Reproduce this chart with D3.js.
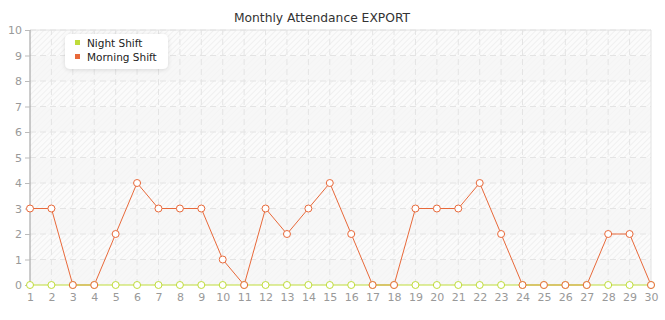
<!DOCTYPE html>
<html><head><meta charset="utf-8">
<script src="https://cdn.jsdelivr.net/npm/d3@7"></script>
<style>body{margin:0;background:#fff;}svg{display:block;font-family:"DejaVu Sans",Verdana,sans-serif;}</style>
</head><body><svg id="c" width="665" height="320"></svg>
<script>
const title = "Monthly Attendance EXPORT";
const days = d3.range(1, 31);
const nightShift = [0,0,0,0,0,0,0,0,0,0,0,0,0,0,0,0,0,0,0,0,0,0,0,0,0,0,0,0,0,0];
const morningShift = [3,3,0,0,2,4,3,3,3,1,0,3,2,3,4,2,0,0,3,3,3,4,2,0,0,0,0,2,2,0];
const yTicks = d3.range(0, 11);
const seriesNames = ["Night Shift", "Morning Shift"];
const seriesColors = ["#bfdc3a", "#e8693a"];

const svg = d3.select("#c");
const m = {l:30, r:14, t:30, b:35};
const W = 665, H = 320;
const x = d3.scaleLinear().domain([1,30]).range([m.l, W - m.r]);
const y = d3.scaleLinear().domain([0,10]).range([H - m.b, m.t]);

const defs = svg.append("defs");
const pat = defs.append("pattern").attr("id","hatch").attr("patternUnits","userSpaceOnUse")
  .attr("width",4).attr("height",4).attr("patternTransform","rotate(45)");
pat.append("rect").attr("width",4).attr("height",4).attr("fill","#fbfbfb");
pat.append("line").attr("x1",0).attr("y1",0).attr("x2",0).attr("y2",4).attr("stroke","#ededed").attr("stroke-width",1.5);
const pat2 = defs.append("pattern").attr("id","hatch2").attr("patternUnits","userSpaceOnUse")
  .attr("width",4).attr("height",4).attr("patternTransform","rotate(45)");
pat2.append("rect").attr("width",4).attr("height",4).attr("fill","#f7f7f7");
pat2.append("line").attr("x1",0).attr("y1",0).attr("x2",0).attr("y2",4).attr("stroke","#f3f3f3").attr("stroke-width",1.5);
const f = defs.append("filter").attr("id","sh").attr("x","-20%").attr("y","-20%").attr("width","140%").attr("height","160%");
f.append("feDropShadow").attr("dx",0).attr("dy",1).attr("stdDeviation",2).attr("flood-color","#000").attr("flood-opacity",0.12);

// bands
for (let i = 0; i < 10; i++) {
  svg.append("rect").attr("x", x(1)).attr("width", x(30) - x(1))
    .attr("y", y(i+1)).attr("height", y(i) - y(i+1))
    .attr("fill", (i % 2 === 1) ? "url(#hatch)" : "url(#hatch2)");
}
// grid
svg.append("g").selectAll("line").data(yTicks.slice(1)).join("line")
  .attr("x1", x(1)).attr("x2", x(30)).attr("y1", d=>y(d)).attr("y2", d=>y(d))
  .attr("stroke","#e4e4e4").attr("stroke-dasharray","6,4");
svg.append("g").selectAll("line").data(days.slice(1, -1)).join("line")
  .attr("x1", d=>x(d)).attr("x2", d=>x(d)).attr("y1", y(0)).attr("y2", y(10))
  .attr("stroke","#e4e4e4").attr("stroke-dasharray","6,4");
// border top/right
svg.append("path").attr("d", `M${x(1)},${y(10)}H${x(30)}V${y(0)}`).attr("fill","none").attr("stroke","#e2e2e2");

// axes
const ya = svg.append("g").attr("transform", `translate(${x(1)},0)`)
  .call(d3.axisLeft(y).tickValues(yTicks).tickSize(5).tickPadding(3).tickFormat(d3.format("d")));
ya.select(".domain").attr("stroke","#999").attr("d", `M0,${y(10)}V${y(0)}`);
ya.selectAll(".tick line").attr("stroke","#bbb");
ya.selectAll("text").attr("fill","#999").attr("font-size",11).attr("font-family","DejaVu Sans");

const xa = svg.append("g").attr("transform", `translate(0,${y(0)})`)
  .call(d3.axisBottom(x).tickValues(days).tickSize(0).tickPadding(8).tickFormat(d3.format("d")));
xa.select(".domain").remove();
xa.selectAll("text").attr("fill","#999").attr("font-size",11).attr("font-family","DejaVu Sans");

// lines
const series = [nightShift, morningShift];
const line = d3.line().x((d,i)=>x(days[i])).y(d=>y(d));
[1,0].forEach(k => {
  svg.append("path").datum(series[k]).attr("d", line).attr("fill","none")
    .attr("stroke", seriesColors[k]).attr("stroke-width",1);
});
[0,1].forEach(k => {
  svg.append("g").selectAll("circle").data(series[k]).join("circle")
    .attr("cx",(d,i)=>x(days[i])).attr("cy",d=>y(d)).attr("r",3.5)
    .attr("fill","#fff").attr("stroke", seriesColors[k]).attr("stroke-width",1);
});

// title
svg.append("text").attr("x", 322).attr("y", 22).attr("text-anchor","middle")
  .attr("font-size",12.3).attr("fill","#333").text(title);

// legend
const lg = svg.append("g").attr("transform","translate(65,34)");
lg.append("rect").attr("width",103).attr("height",35).attr("rx",5).attr("fill","#fff").attr("filter","url(#sh)");
seriesNames.forEach((n,i) => {
  lg.append("rect").attr("x",10).attr("y",6 + i*14).attr("width",5).attr("height",5).attr("fill",seriesColors[i]);
  lg.append("text").attr("x",22).attr("y",13 + i*14).attr("font-size",10.5).attr("fill","#222").text(n);
});
</script></body></html>
